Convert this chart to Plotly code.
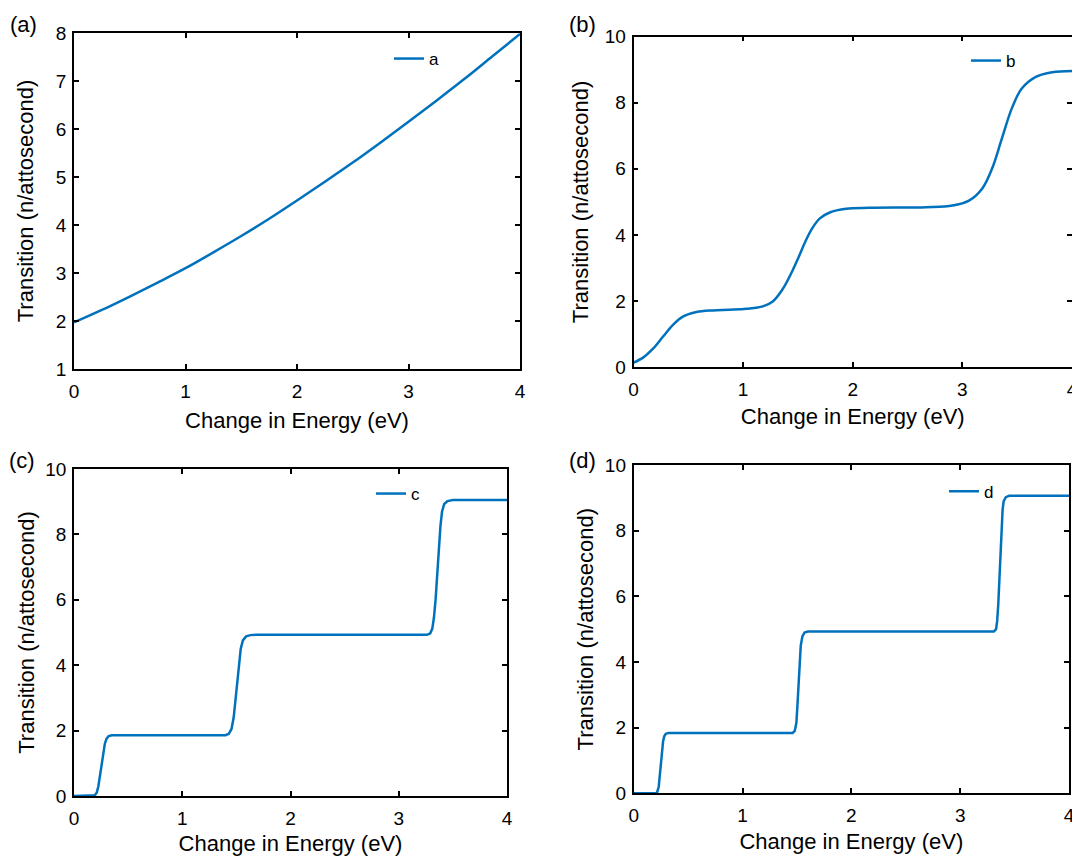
import plotly.graph_objects as go

# ---------------- data ----------------
energy_a = [0, 0.25, 0.5, 0.75, 1.0, 1.25, 1.5, 1.75, 2.0, 2.25, 2.5, 2.75, 3.0, 3.25, 3.5, 3.75, 4.0]
trans_a = [1.97, 2.23, 2.51, 2.80, 3.10, 3.43, 3.77, 4.13, 4.51, 4.90, 5.30, 5.72, 6.15, 6.59, 7.04, 7.51, 7.98]

energy_b = [0, 0.09, 0.18, 0.27, 0.36, 0.45, 0.575, 0.725, 0.877, 1.03, 1.18, 1.27, 1.36, 1.45, 1.51,
            1.57, 1.63, 1.70, 1.79, 1.94, 2.15, 2.67, 2.91, 3.06, 3.18, 3.27, 3.36, 3.45, 3.54, 3.67, 3.82, 4.0]
trans_b = [0.14, 0.30, 0.57, 0.93, 1.28, 1.53, 1.67, 1.72, 1.74, 1.77, 1.84, 1.99, 2.36, 2.92, 3.36,
           3.82, 4.20, 4.50, 4.68, 4.79, 4.82, 4.84, 4.89, 5.04, 5.40, 6.00, 6.91, 7.82, 8.42, 8.78, 8.92, 8.96]

energy_c = [0, 0.16, 0.19, 0.21, 0.225, 0.24, 0.255, 0.27, 0.285, 0.30, 0.32, 0.35, 0.40,
            1.40, 1.43, 1.455, 1.475, 1.49, 1.505, 1.52, 1.54, 1.56, 1.59, 1.63, 1.68,
            3.26, 3.29, 3.31, 3.325, 3.34, 3.355, 3.37, 3.385, 3.40, 3.42, 3.45, 3.50, 4.0]
trans_c = [0, 0, 0.02, 0.10, 0.30, 0.62, 0.98, 1.33, 1.60, 1.75, 1.83, 1.86, 1.86,
           1.86, 1.90, 2.05, 2.40, 2.90, 3.50, 4.05, 4.50, 4.76, 4.88, 4.92, 4.93,
           4.93, 4.97, 5.12, 5.45, 6.00, 6.75, 7.55, 8.25, 8.70, 8.93, 9.02, 9.05, 9.05]

energy_d = [0, 0.20, 0.215, 0.23, 0.24, 0.25, 0.26, 0.27, 0.28, 0.295, 0.32,
            1.46, 1.48, 1.495, 1.505, 1.515, 1.525, 1.535, 1.55, 1.57, 1.60,
            3.31, 3.33, 3.34, 3.35, 3.36, 3.37, 3.38, 3.39, 3.40, 3.42, 3.45, 4.0]
trans_d = [0, 0, 0.03, 0.20, 0.55, 0.95, 1.30, 1.58, 1.73, 1.81, 1.84,
           1.84, 1.90, 2.15, 2.70, 3.40, 4.05, 4.50, 4.78, 4.90, 4.93,
           4.93, 5.00, 5.25, 5.75, 6.50, 7.40, 8.15, 8.65, 8.90, 9.02, 9.06, 9.06]

series_names = ["a", "b", "c", "d"]
panel_labels = ["(a)", "(b)", "(c)", "(d)"]
x_title = "Change in Energy (eV)"
y_title = "Transition (n/attosecond)"
y_ranges = [[1, 8], [0, 10], [0, 10], [0, 10]]
y_dticks = [1, 2, 2, 2]

# ---------------- layout helpers ----------------
W, H = 1072, 856
BLUE = "#0072BD"
FONT = "Liberation Sans, Arial, Helvetica, sans-serif"

def fx(p):
    return min(1.0, p / W)

def fy(p):
    return 1 - p / H

# pixel boxes (screen coordinates): left, right, top, bottom
boxes = [(74, 520, 33, 369), (633.5, 1072, 36.5, 367.3), (74, 507, 469, 796), (633.7, 1069, 465, 793.3)]
legend_pos = [(389, 59), (966, 61), (371, 494), (944, 491.7)]
label_pos = [(23, 24), (582, 24), (22, 460), (582, 460)]
ytitle_standoff = [16, 10, 4, 5]
xtitle_standoff = [12, 10, 8, 9]

xs = [energy_a, energy_b, energy_c, energy_d]
ys = [trans_a, trans_b, trans_c, trans_d]
line_shapes = ["spline", "spline", "linear", "linear"]

fig = go.Figure()
layout = dict(
    width=W, height=H,
    margin=dict(l=0, r=0, t=0, b=0, autoexpand=False),
    paper_bgcolor="white", plot_bgcolor="white",
    font=dict(family=FONT, color="black", size=19),
    showlegend=True,
    annotations=[],
)

for i in range(4):
    n = "" if i == 0 else str(i + 1)
    leg = "legend" if i == 0 else f"legend{i + 1}"
    line = dict(color=BLUE, width=2.5, shape=line_shapes[i])
    if line_shapes[i] == "spline":
        line["smoothing"] = 1.0
    fig.add_trace(go.Scatter(
        x=xs[i], y=ys[i], mode="lines", name=series_names[i],
        line=line, xaxis="x" + n, yaxis="y" + n, legend=leg,
    ))
    l, r, t, b = boxes[i]
    common = dict(
        showgrid=False, zeroline=False, showline=True, linecolor="black", linewidth=1.8,
        mirror="allticks", ticks="inside", ticklen=5, tickwidth=1.5, tickcolor="black",
        tickfont=dict(family=FONT, size=19, color="black"), automargin=False,
        ticklabeloverflow="allow",
    )
    layout["xaxis" + n] = dict(
        common, domain=[fx(l), fx(r)], range=[0, 4], dtick=1, tick0=0,
        anchor="y" + n, ticklabelstandoff=4,
        title=dict(text=x_title, font=dict(family=FONT, size=22), standoff=xtitle_standoff[i]),
    )
    layout["yaxis" + n] = dict(
        common, domain=[fy(b), fy(t)], range=y_ranges[i], dtick=y_dticks[i], tick0=0,
        anchor="x" + n, ticklabelstandoff=2,
        title=dict(text=y_title, font=dict(family=FONT, size=22), standoff=ytitle_standoff[i]),
    )
    lx, ly = legend_pos[i]
    layout[leg] = dict(
        x=fx(lx), y=fy(ly), xanchor="left", yanchor="middle",
        bgcolor="rgba(0,0,0,0)", borderwidth=0,
        font=dict(family=FONT, size=17, color="black"),
        itemwidth=30, tracegroupgap=0,
    )
    px_, py_ = label_pos[i]
    layout["annotations"].append(dict(
        text=panel_labels[i], x=fx(px_), y=fy(py_), xref="paper", yref="paper",
        xanchor="center", yanchor="middle", showarrow=False,
        font=dict(family=FONT, size=22, color="black"),
    ))

fig.update_layout(**layout)
fig.write_html(
    "out.html",
    config={"displayModeBar": False},
    post_script=(
        "document.body.style.margin='0';"
        "document.body.style.overflow='hidden';"
        "document.documentElement.style.overflow='hidden';"
    ),
)
